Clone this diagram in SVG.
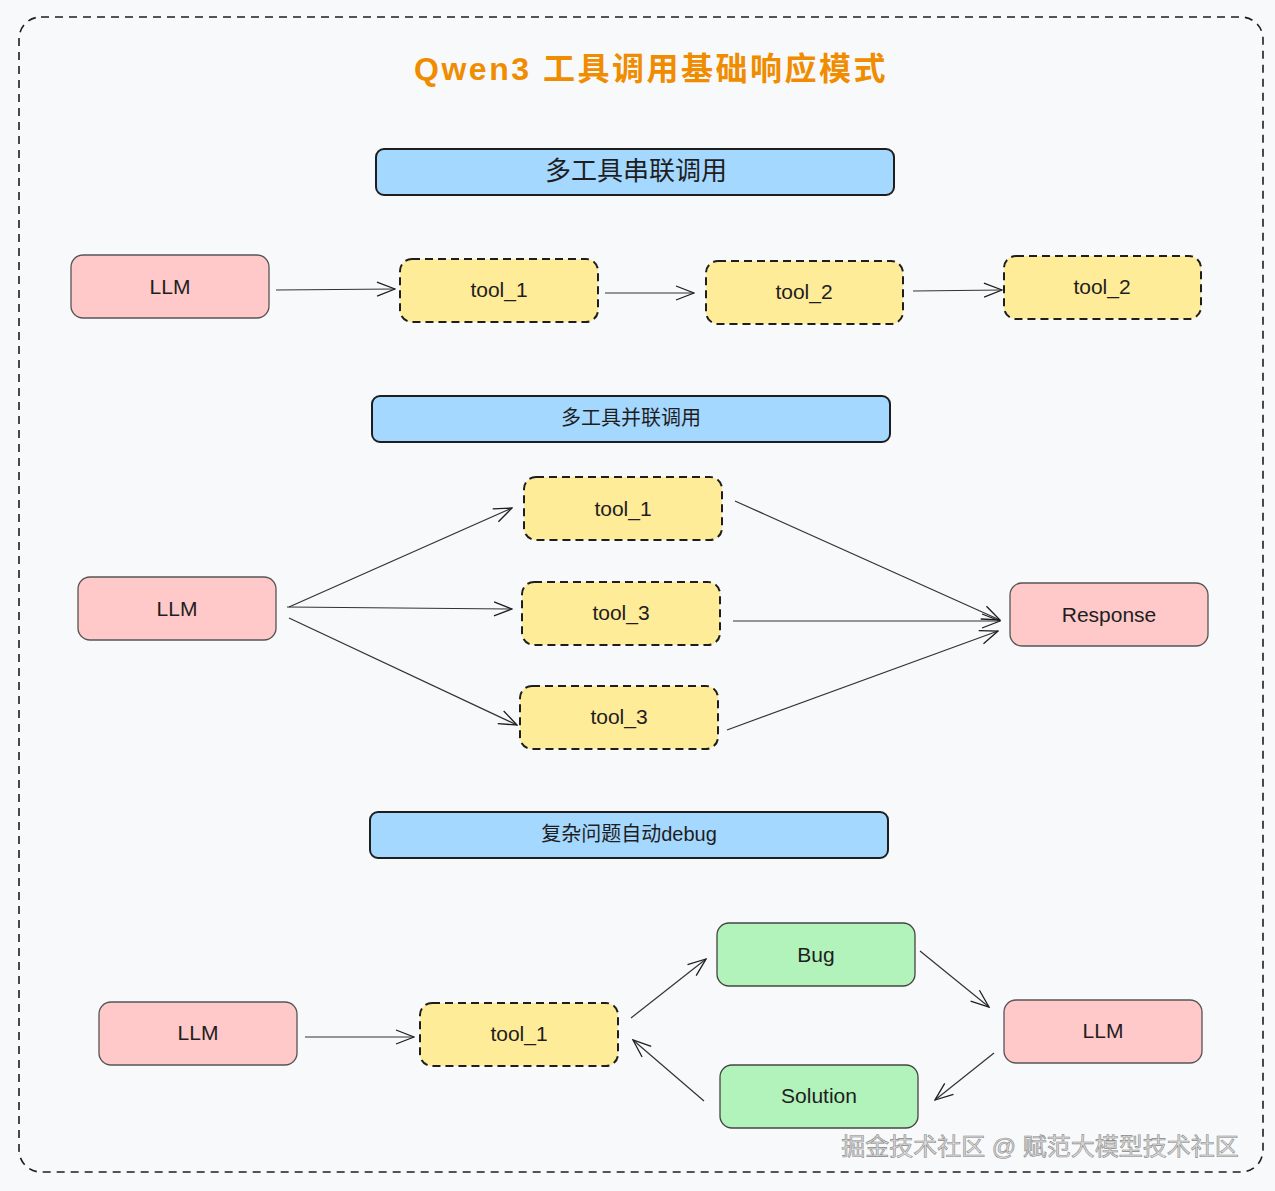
<svg xmlns="http://www.w3.org/2000/svg" width="1275" height="1191" viewBox="0 0 1275 1191">
<defs>
<marker id="arr" viewBox="0 0 20 20" refX="19" refY="10" markerWidth="20" markerHeight="20" markerUnits="userSpaceOnUse" orient="auto">
<path d="M1,3 L19,10 L1,17" fill="none" stroke="#1e1e1e" stroke-width="1.3"/>
</marker>
</defs>
<style>
text{font-family:"Liberation Sans","Noto Sans CJK SC",sans-serif;text-anchor:middle;dominant-baseline:central;fill:#1e1e1e}
.hdr{fill:#a5d8ff;stroke:#1e1e1e;stroke-width:2}
.llm{fill:#ffc9c9;stroke:#555;stroke-width:1.3}
.tool{fill:#ffec99;stroke:#1e1e1e;stroke-width:2;stroke-dasharray:8 5}
.grn{fill:#b2f2bb;stroke:#444;stroke-width:1.3}
.lbl{font-size:21px}
.conn line{stroke:#333;stroke-width:1.2;marker-end:url(#arr)}
</style>
<rect width="1275" height="1191" fill="#f8f9fa"/>
<rect x="19" y="17" width="1244" height="1155" rx="22" fill="none" stroke="#1e1e1e" stroke-width="1.6" stroke-dasharray="8 6"/>
<text x="651" y="69" font-size="32" font-weight="bold" style="fill:#f08c00" letter-spacing="2.5">Qwen3 工具调用基础响应模式</text>

<g id="h1"><rect class="hdr" x="376" y="149" width="518" height="46" rx="8"/><text x="636" y="171" font-size="26">多工具串联调用</text></g>
<g id="h2"><rect class="hdr" x="372" y="396" width="518" height="46" rx="8"/><text x="631" y="418" font-size="20">多工具并联调用</text></g>
<g id="h3"><rect class="hdr" x="370" y="812" width="518" height="46" rx="8"/><text x="629" y="834" font-size="20">复杂问题自动debug</text></g>

<g id="r1_llm"><rect class="llm" x="71" y="255" width="198" height="63" rx="12"/><text class="lbl" x="170" y="286">LLM</text></g>
<g id="r1_t1"><rect class="tool" x="400" y="259" width="198" height="63" rx="12"/><text class="lbl" x="499" y="289">tool_1</text></g>
<g id="r1_t2"><rect class="tool" x="706" y="261" width="197" height="63" rx="12"/><text class="lbl" x="804" y="291">tool_2</text></g>
<g id="r1_t2b"><rect class="tool" x="1004" y="256" width="197" height="63" rx="12"/><text class="lbl" x="1102" y="286">tool_2</text></g>

<g id="r2_llm"><rect class="llm" x="78" y="577" width="198" height="63" rx="12"/><text class="lbl" x="177" y="608">LLM</text></g>
<g id="r2_t1"><rect class="tool" x="524" y="477" width="198" height="63" rx="12"/><text class="lbl" x="623" y="508">tool_1</text></g>
<g id="r2_t3"><rect class="tool" x="522" y="582" width="198" height="63" rx="12"/><text class="lbl" x="621" y="612">tool_3</text></g>
<g id="r2_t3b"><rect class="tool" x="520" y="686" width="198" height="63" rx="12"/><text class="lbl" x="619" y="716">tool_3</text></g>
<g id="r2_resp"><rect class="llm" x="1010" y="583" width="198" height="63" rx="12"/><text class="lbl" x="1109" y="614">Response</text></g>

<g id="r3_llm"><rect class="llm" x="99" y="1002" width="198" height="63" rx="12"/><text class="lbl" x="198" y="1032">LLM</text></g>
<g id="r3_t1"><rect class="tool" x="420" y="1003" width="198" height="63" rx="12"/><text class="lbl" x="519" y="1033">tool_1</text></g>
<g id="r3_bug"><rect class="grn" x="717" y="923" width="198" height="63" rx="12"/><text class="lbl" x="816" y="954">Bug</text></g>
<g id="r3_llm2"><rect class="llm" x="1004" y="1000" width="198" height="63" rx="12"/><text class="lbl" x="1103" y="1030">LLM</text></g>
<g id="r3_sol"><rect class="grn" x="720" y="1065" width="198" height="63" rx="12"/><text class="lbl" x="819" y="1095">Solution</text></g>

<g id="connectors" class="conn">
<line x1="276" y1="290" x2="395" y2="289"/>
<line x1="605" y1="293" x2="694" y2="293"/>
<line x1="913" y1="291" x2="1002" y2="290"/>
<line x1="289" y1="607" x2="512" y2="508"/>
<line x1="287" y1="607" x2="512" y2="609"/>
<line x1="289" y1="618" x2="517" y2="725"/>
<line x1="735" y1="501" x2="1000" y2="620"/>
<line x1="733" y1="621" x2="1000" y2="621"/>
<line x1="727" y1="730" x2="998" y2="631"/>
<line x1="305" y1="1037" x2="414" y2="1037"/>
<line x1="631" y1="1018" x2="706" y2="959"/>
<line x1="920" y1="951" x2="989" y2="1007"/>
<line x1="994" y1="1053" x2="935" y2="1100"/>
<line x1="704" y1="1101" x2="633" y2="1040"/>
</g>
<text x="1040" y="1146" font-size="24" style="fill:#dcdcdc;stroke:#8a8a8a;stroke-width:0.6">掘金技术社区 @ 赋范大模型技术社区</text>
</svg>
